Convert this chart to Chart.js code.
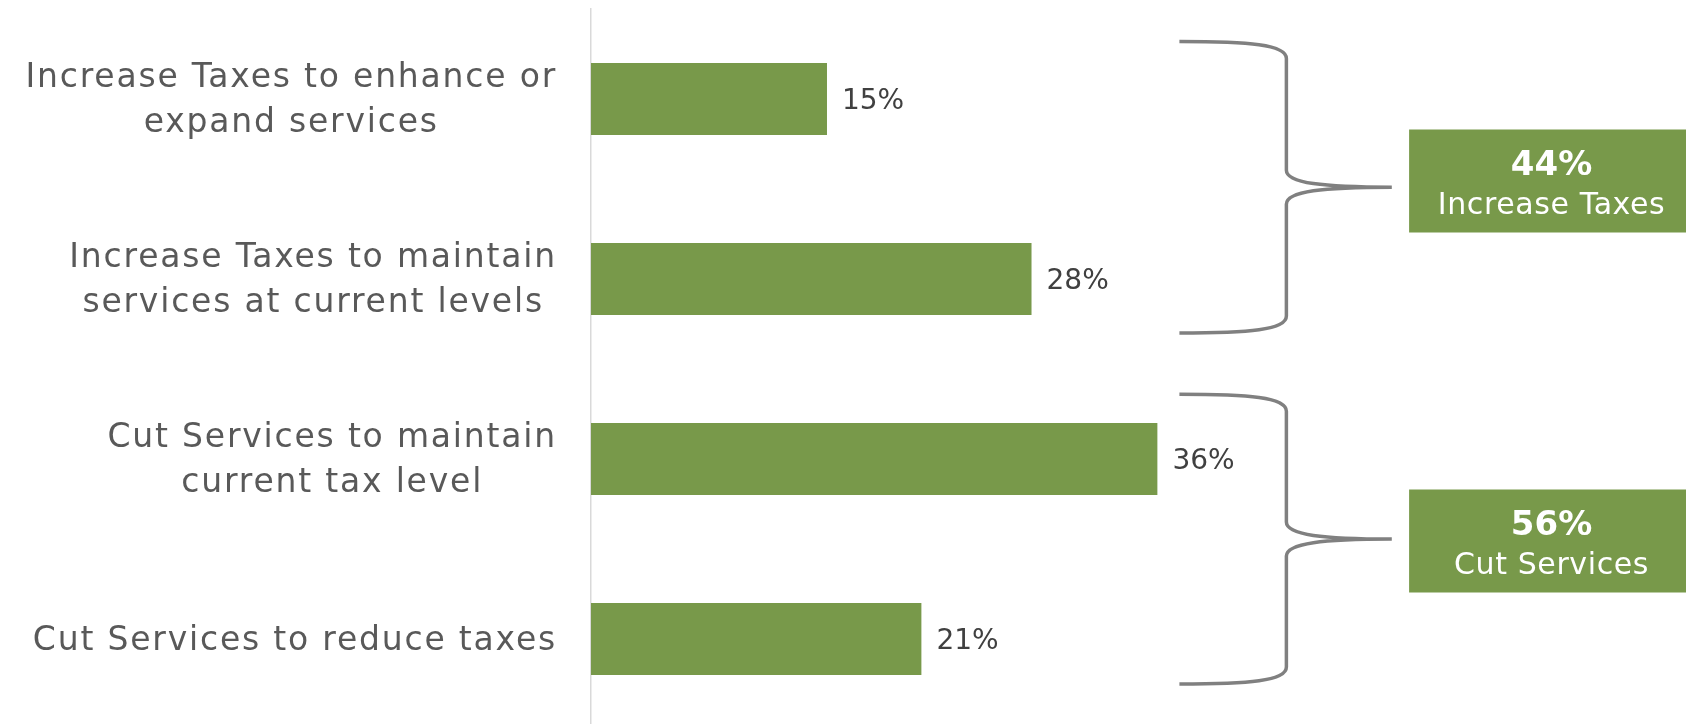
<!DOCTYPE html>
<html>
<head>
<meta charset="utf-8">
<script src="https://cdn.jsdelivr.net/npm/chart.js@4/dist/chart.umd.min.js"></script>
<style>
  html, body { margin: 0; padding: 0; overflow: hidden; background: #ffffff; }
  canvas { display: block; }
</style>
</head>
<body>
<canvas id="chart" width="1686" height="730"></canvas>
<script>
// Survey answers, one bar each
const categories = [
  ['Increase Taxes to enhance or', 'expand services'],
  ['Increase Taxes to maintain', 'services at current levels'],
  ['Cut Services to maintain', 'current tax level'],
  ['Cut Services to reduce taxes']
];
const shares = [15, 28, 36, 21];

// Grouped totals shown beside the braces
const groupNames = ['Increase Taxes', 'Cut Services'];
const groupTotals = [44, 56];
const groupFirst = [0, 2];
const groupLast = [1, 3];

const GREEN = '#78994A';
const LABEL_FONT = '"DejaVu Sans", sans-serif';

// Brace and callout geometry: x in axis units, y in category-index units
const brace = { start: 37.4, spine: 44.2, tip: 50.9, boxLeft: 52.0 };
const braceTop = [-0.32, 1.64];
const braceBottom = [1.30, 3.25];

// Category labels: block right-aligned to the axis, lines centred within the block
const categoryLabels = {
  id: 'categoryLabels',
  afterDraw(chart) {
    const { ctx, scales: { y }, chartArea } = chart;
    ctx.save();
    ctx.font = '33px ' + LABEL_FONT;
    ctx.letterSpacing = '1.8px';
    ctx.fillStyle = '#595959';
    ctx.textAlign = 'center';
    ctx.textBaseline = 'middle';
    const lineH = 45;
    const right = chartArea.left - 34;
    categories.forEach((lines, i) => {
      const w = Math.max(...lines.map(l => ctx.measureText(l).width));
      const cx = right - w / 2;
      const cy = y.getPixelForValue(i) + 2;
      lines.forEach((l, k) => {
        ctx.fillText(l, cx, cy + (k - (lines.length - 1) / 2) * lineH);
      });
    });
    ctx.restore();
  }
};

// Percent labels at the end of each bar
const valueLabels = {
  id: 'valueLabels',
  afterDatasetsDraw(chart) {
    const { ctx } = chart;
    const meta = chart.getDatasetMeta(0);
    ctx.save();
    ctx.font = '28px ' + LABEL_FONT;
    ctx.fillStyle = '#404040';
    ctx.textAlign = 'left';
    ctx.textBaseline = 'middle';
    meta.data.forEach((bar, i) => {
      ctx.fillText(shares[i] + '%', bar.x + 15, bar.y + 3);
    });
    ctx.restore();
  }
};

// Curly braces with the group callouts
const groupBraces = {
  id: 'groupBraces',
  afterDraw(chart) {
    const { ctx, scales: { x, y }, chartArea } = chart;
    const x0 = x.getPixelForValue(brace.start);
    const xv = x.getPixelForValue(brace.spine);
    const xt = x.getPixelForValue(brace.tip);
    const bx = x.getPixelForValue(brace.boxLeft);
    const r = 17;
    ctx.save();
    groupNames.forEach((name, g) => {
      const top = y.getPixelForValue(braceTop[g]);
      const bottom = y.getPixelForValue(braceBottom[g]);
      const mid = (top + bottom) / 2;

      ctx.strokeStyle = '#808080';
      ctx.lineWidth = 3.5;
      ctx.lineCap = 'butt';
      ctx.lineJoin = 'round';
      ctx.beginPath();
      ctx.moveTo(x0, top);
      ctx.bezierCurveTo(x0 + (xv - x0) * 0.65, top, xv, top + 3, xv, top + r);
      ctx.lineTo(xv, mid - r);
      ctx.bezierCurveTo(xv, mid - 4, xv + (xt - xv) * 0.35, mid, xt, mid);
      ctx.moveTo(xt, mid);
      ctx.bezierCurveTo(xv + (xt - xv) * 0.35, mid, xv, mid + 4, xv, mid + r);
      ctx.lineTo(xv, bottom - r);
      ctx.bezierCurveTo(xv, bottom - 3, x0 + (xv - x0) * 0.65, bottom, x0, bottom);
      ctx.stroke();

      const bh = 103;
      const bcy = (y.getPixelForValue(groupFirst[g]) + y.getPixelForValue(groupLast[g])) / 2 - 8;
      const bRight = chartArea.right + 4;
      ctx.fillStyle = GREEN;
      ctx.fillRect(bx, bcy - bh / 2, bRight - bx, bh);

      const tcx = (bx + bRight) / 2 + 2;
      ctx.fillStyle = '#ffffff';
      ctx.textAlign = 'center';
      ctx.textBaseline = 'alphabetic';
      ctx.font = 'bold 34px ' + LABEL_FONT;
      ctx.fillText(groupTotals[g] + '%', tcx, bcy - 6);
      ctx.font = '30px ' + LABEL_FONT;
      ctx.letterSpacing = '0.6px';
      ctx.fillText(name, tcx, bcy + 33);
      ctx.letterSpacing = '0px';
    });
    ctx.restore();
  }
};

new Chart(document.getElementById('chart'), {
  type: 'bar',
  data: {
    labels: categories,
    datasets: [{
      data: shares,
      backgroundColor: GREEN,
      borderWidth: 0,
      barPercentage: 0.4,
      categoryPercentage: 1.0
    }]
  },
  options: {
    indexAxis: 'y',
    responsive: false,
    animation: false,
    devicePixelRatio: 1,
    layout: { padding: { left: 591, top: 9, right: 0, bottom: 1 } },
    plugins: {
      legend: { display: false },
      tooltip: { enabled: false },
      title: { display: false }
    },
    scales: {
      x: { min: 0, max: 69.6, display: false },
      y: {
        ticks: { display: false },
        grid: { display: false, drawTicks: false },
        border: { display: true, color: '#d9d9d9', width: 1.5 }
      }
    }
  },
  plugins: [categoryLabels, valueLabels, groupBraces]
});
</script>
</body>
</html>
